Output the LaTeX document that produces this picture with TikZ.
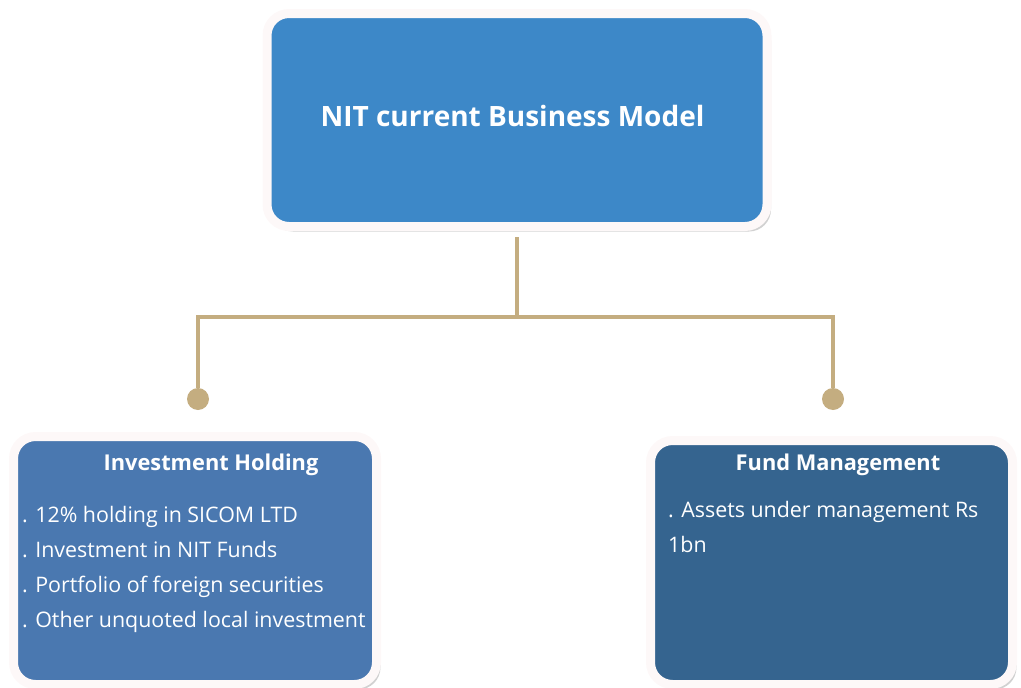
\documentclass[tikz,border=0pt]{standalone}
\usepackage{fontspec}
\setmainfont{Open Sans}
\usetikzlibrary{positioning,shadows}

\definecolor{topblue}{HTML}{3D88C8}
\definecolor{holdblue}{HTML}{4A78B0}
\definecolor{fundblue}{HTML}{35648F}
\definecolor{linktan}{HTML}{C4AD80}
\definecolor{framewhite}{HTML}{FDF8F8}

\tikzset{
  box/.style={rectangle, rounded corners=22pt, draw=framewhite, line width=9pt,
    inner sep=0pt, drop shadow={shadow xshift=4pt, shadow yshift=-5pt, opacity=0.3, fill=black!60}},
  link/.style={draw=linktan, line width=4pt},
  dot/.style={circle, fill=linktan, minimum size=22pt, inner sep=0pt},
  boxtitle/.style={font=\bfseries\fontsize{21.8}{26}\selectfont, text=white},
  boxitem/.style={font=\fontsize{21.4}{26}\selectfont, text=white, anchor=base west, inner sep=0pt},
}

\begin{document}
\begin{tikzpicture}[x=1pt, y=-1pt]
\useasboundingbox (0,0) rectangle (1021,688);

% the three boxes
\node[box, fill=topblue, minimum width=500pt, minimum height=213pt,
  text=white, font=\bfseries\fontsize{28}{32}\selectfont] (top) at (517,120)
  {\hspace*{-9pt}\raisebox{9pt}{NIT current Business Model}};
\node[box, fill=holdblue, minimum width=363pt, minimum height=248pt] (hold) at (195,560.5) {};
\node[box, fill=fundblue, minimum width=362pt, minimum height=244pt] (fund) at (831.5,562.5) {};

% tree lines down to the dots
\coordinate (branch) at (517,317);
\node[dot] (dotL) at (198,399) {};
\node[dot] (dotR) at (833,399) {};
\draw[link] ([yshift=-6pt]top.south) -- (branch);
\draw[link] (branch) -| (dotL);
\draw[link] (branch) -| (dotR);

% box contents
\node[boxtitle] (holdtitle) at (211,465) {Investment Holding};
\foreach \txt [count=\i] in {. 12\% holding in SICOM LTD, . Investment in NIT Funds,
    . Portfolio of foreign securities, . Other unquoted local investment}
  \node[boxitem] (hold-\i) at (22,{522+35.3*(\i-1)}) {\txt};

\node[boxtitle] (fundtitle) at (838,465) {Fund Management};
\node[boxitem] (fund-1) at (668,517) {. Assets under management Rs};
\node[boxitem] (fund-2) at (668,552) {1bn};
\end{tikzpicture}
\end{document}
